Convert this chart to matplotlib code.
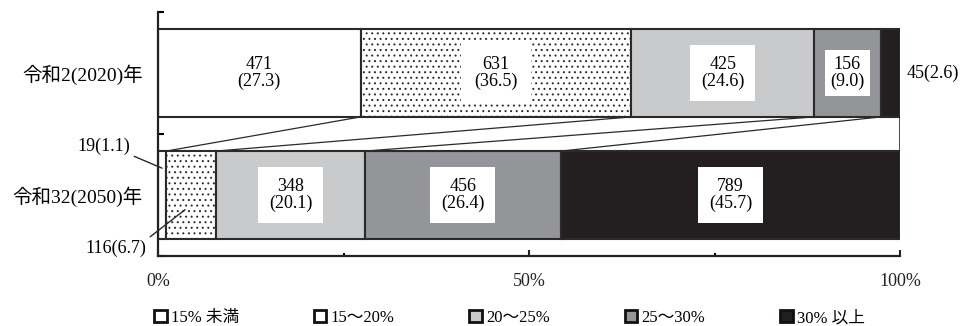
import matplotlib
matplotlib.use("Agg")
import matplotlib.pyplot as plt
from matplotlib.patches import Patch, Rectangle
import numpy as np

plt.rcParams['font.family'] = ['Liberation Serif', 'Noto Sans CJK JP']
plt.rcParams['hatch.linewidth'] = 0.7
plt.rcParams['hatch.color'] = '#6a6a6a'

# Data
years = ['令和2(2020)年', '令和32(2050)年']
categories = ['15% 未満', '15～20%', '20～25%', '25～30%', '30% 以上']
counts_2020 = [471, 631, 425, 156, 45]
pct_2020 = [27.3, 36.5, 24.6, 9.0, 2.6]
counts_2050 = [19, 116, 348, 456, 789]
pct_2050 = [1.1, 6.7, 20.1, 26.4, 45.7]

# Styles
fills = ['white', 'white', '#c9cacc', '#939598', '#231f20']
hatches = [None, '...', None, None, None]
edge = '#2a2a2a'
bar_h = 0.72

fig = plt.figure(figsize=(9.64, 3.26), dpi=100)
ax = fig.add_axes([158 / 964, 1 - 256 / 326, 742 / 964, 244 / 326])

ypos = {0: 1, 1: 0}  # 2020 on top, 2050 below
rows = [(counts_2020, pct_2020), (counts_2050, pct_2050)]
cums = []
for r, (cnt, pct) in enumerate(rows):
    y = ypos[r]
    left = 0.0
    cum = []
    for i, (c, p) in enumerate(zip(cnt, pct)):
        ax.barh(y, p, left=left, height=bar_h, color=fills[i], edgecolor=edge,
                linewidth=1.5, hatch=hatches[i], zorder=2)
        cum.append(left + p)
        left += p
    cums.append(cum)

# Connector box and lines between bars
ax.add_patch(Rectangle((0, bar_h / 2), 100, 1 - bar_h, facecolor='none',
                       edgecolor=edge, linewidth=1.2, zorder=1))
for i in range(4):
    ax.plot([cums[0][i], cums[1][i]], [1 - bar_h / 2, bar_h / 2],
            color=edge, linewidth=0.9, zorder=1)

fs = 13

def inside_label(y, left, p, c, boxed, pad):
    x = left + p / 2
    bbox = None
    if boxed:
        bbox = dict(boxstyle=f'square,pad={pad}', facecolor='white', edgecolor='none')
    ax.text(x, y, f'{c}\n({p:.1f})', ha='center', va='center', fontsize=fs,
            linespacing=1.05, bbox=bbox, zorder=4)

# 2020 labels
left = 0.0
for i, (c, p) in enumerate(zip(counts_2020, pct_2020)):
    if i < 4:
        inside_label(1, left, p, c, boxed=(i > 0),
                     pad=(0.3 if p < 12 else (0.75 if i == 1 else 0.6)))
    else:
        ax.annotate(f'{c}({p:.1f})', xy=(100, 1), xytext=(5, 0),
                    textcoords='offset points', ha='left', va='center', fontsize=fs)
    left += p

# 2050 labels
left = 0.0
for i, (c, p) in enumerate(zip(counts_2050, pct_2050)):
    if i >= 2:
        inside_label(0, left, p, c, boxed=True, pad=0.6)
    left += p

# Small segments labelled outside with leader lines
ax.annotate(f'{counts_2050[0]}({pct_2050[0]:.1f})',
            xy=(pct_2050[0] / 2, 0.22), xytext=(-23, 16), textcoords='offset points',
            ha='right', va='center', fontsize=fs, annotation_clip=False,
            arrowprops=dict(arrowstyle='-', color=edge, lw=1.0, relpos=(1, 0),
                            shrinkA=1, shrinkB=0))
ax.annotate(f'{counts_2050[1]}({pct_2050[1]:.1f})',
            xy=(pct_2050[0] + pct_2050[1] / 2 - 0.8, -0.12), xytext=(-28, -28),
            textcoords='offset points', ha='right', va='center', fontsize=fs,
            annotation_clip=False,
            arrowprops=dict(arrowstyle='-', color=edge, lw=1.0, relpos=(1, 1),
                            shrinkA=1, shrinkB=0))

# Axes styling
ax.set_xlim(0, 100)
ax.set_ylim(-0.5, 1.5)
for s in ['top', 'right']:
    ax.spines[s].set_visible(False)
for s in ['left', 'bottom']:
    ax.spines[s].set_linewidth(1.6)
    ax.spines[s].set_color('#222222')

ax.set_xticks([0, 50, 100])
ax.set_xticklabels(['0%', '50%', '100%'], fontsize=fs)
ax.set_xticks([25, 75], minor=True)
ax.tick_params(axis='x', which='major', direction='in', length=4.5, width=1.5, pad=12,
               colors='#222222')
ax.tick_params(axis='x', which='minor', direction='in', length=2.5, width=1.5)

ax.set_yticks([1, 0])
ax.set_yticklabels(years, fontsize=14)
ax.set_yticks([-0.5, 0.5, 1.5], minor=True)
ax.tick_params(axis='y', which='major', length=0, pad=11)
ax.tick_params(axis='y', which='minor', direction='in', length=4, width=1.5)

# Legend
handles = [Patch(facecolor=fills[i], edgecolor='#111111', linewidth=2.0)
           for i in range(len(categories))]
fig.legend(handles, categories, loc='center left', bbox_to_anchor=(154 / 964, 8 / 326),
           ncol=5, frameon=False, fontsize=12, handlelength=0.75, handleheight=0.75,
           handletextpad=0.25, columnspacing=4.5, borderaxespad=0, borderpad=0)

fig.savefig('out.png', dpi=100)
